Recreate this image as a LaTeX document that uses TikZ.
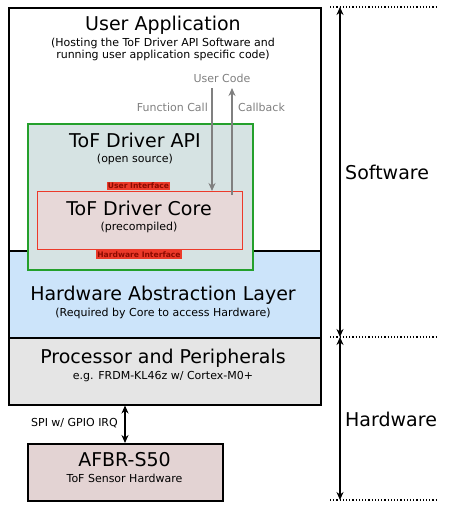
\documentclass[tikz,border=0pt]{standalone}
\usepackage{fontspec}
\setmainfont{DejaVu Sans}
\usetikzlibrary{arrows.meta,positioning}

\definecolor{apifill}{HTML}{D6E3E3}
\definecolor{apigreen}{HTML}{24A02C}
\definecolor{corefill}{HTML}{E7D8D8}
\definecolor{corered}{HTML}{EC3A2A}
\definecolor{halfill}{HTML}{CCE4FA}
\definecolor{procfill}{HTML}{E5E5E5}
\definecolor{sensfill}{HTML}{E3D3D3}
\definecolor{ifacetext}{HTML}{8C0A00}

\tikzset{
    layer/.style={draw, line width=1.5pt, anchor=north west, inner sep=0pt},
    bigtext/.style={font=\fontsize{19}{22}\selectfont, inner sep=0pt},
    smalltext/.style={font=\fontsize{11}{12}\selectfont, inner sep=0pt, align=center},
    iface/.style={fill=corered, text=ifacetext, inner sep=1.3pt,
        font=\fontsize{7.6}{8}\selectfont\bfseries},
    callarrow/.style={draw=gray, line width=1.2pt, -{Stealth[length=8pt,width=7pt]}},
    sidearrow/.style={line width=1.5pt, {Stealth[length=8pt,width=7pt]}-{Stealth[length=8pt,width=7pt]}}
}

\begin{document}
\begin{tikzpicture}[x=1pt,y=-1pt]
        \useasboundingbox (0,0) rectangle (450,509);
        % layers
        \node[layer, fill=white, minimum width=312, minimum height=243] (app) at (8,7) {};
        \node[layer, fill=halfill, minimum width=312, minimum height=87] (hal) at (8,250) {};
        \node[layer, fill=procfill, minimum width=312, minimum height=67] (proc) at (8,337) {};
        \node[layer, fill=sensfill, minimum width=195, minimum height=57] (afbr) at (27,443) {};
        % driver boxes
        \node[layer, draw=apigreen, fill=apifill, minimum width=225, minimum height=146] (api) at (27,123) {};
        \node[layer, draw=corered, line width=1.2pt, fill=corefill, minimum width=205, minimum height=58] (core) at (37,191) {};
        \node[iface] (userif) at (138.5,186) {User Interface};
        \node[iface] (hwif) at (139,254.5) {Hardware Interface};
        % texts
        \node[bigtext] (apptitle) at (163,25) {User Application};
        \node[smalltext] (appsub) at (163,49) {(Hosting the ToF Driver API Software and\\running user application specific code)};
        \node[bigtext] (apititle) at (135,140) {ToF Driver API};
        \node[smalltext] (apisub) at (135,159) {(open source)};
        \node[bigtext] (coretitle) at (139,208) {ToF Driver Core};
        \node[smalltext] (coresub) at (139,227) {(precompiled)};
        \node[bigtext] (haltitle) at (163,295) {Hardware Abstraction Layer};
        \node[smalltext] (halsub) at (163,313) {(Required by Core to access Hardware)};
        \node[bigtext] (proctitle) at (163,358) {Processor and Peripherals};
        \node[smalltext] (procsub) at (163,377) {e.g. FRDM-KL46z w/ Cortex-M0+};
        \node[bigtext] (afbrtitle) at (124.5,460) {AFBR-S50};
        \node[smalltext] (afbrsub) at (124.5,478) {ToF Sensor Hardware};
        % user code calls
        \node[smalltext, text=gray] (usercode) at (222,78) {User Code};
        \node[smalltext, text=gray, anchor=east] (fcall) at (208,107) {Function Call};
        \node[smalltext, text=gray, anchor=west] (cback) at (238,107) {Callback};
        \coordinate (fctop) at (212,88);
        \coordinate (cbtop) at (232,88);
        \coordinate (cbbot) at (232,195);
        \draw[callarrow] (fctop) -- (fctop |- core.north);
        \draw[callarrow] (cbbot) -- (cbtop);
        % spi link
        \coordinate (spi) at (125,0);
        \draw[sidearrow] (proc.south -| spi) -- (afbr.north -| spi);
        \node[smalltext, anchor=east] (spitext) at (118,423) {SPI w/ GPIO IRQ};
        % software / hardware ranges
        \coordinate (swtop) at (340,7);
        \coordinate (swbot) at (340,337);
        \coordinate (hwbot) at (340,500);
        \draw[line width=1.2pt, dotted] (330,7) -- (437,7);
        \draw[line width=1.2pt, dotted] (330,337) -- (437,337);
        \draw[line width=1.2pt, dotted] (330,500) -- (437,500);
        \draw[sidearrow] (swtop) -- (swbot);
        \draw[sidearrow] (swbot) -- (hwbot);
        \node[bigtext, anchor=west] (swtext) at (345,172) {Software};
        \node[bigtext, anchor=west] (hwtext) at (345,419) {Hardware};
    \end{tikzpicture}
\end{document}
